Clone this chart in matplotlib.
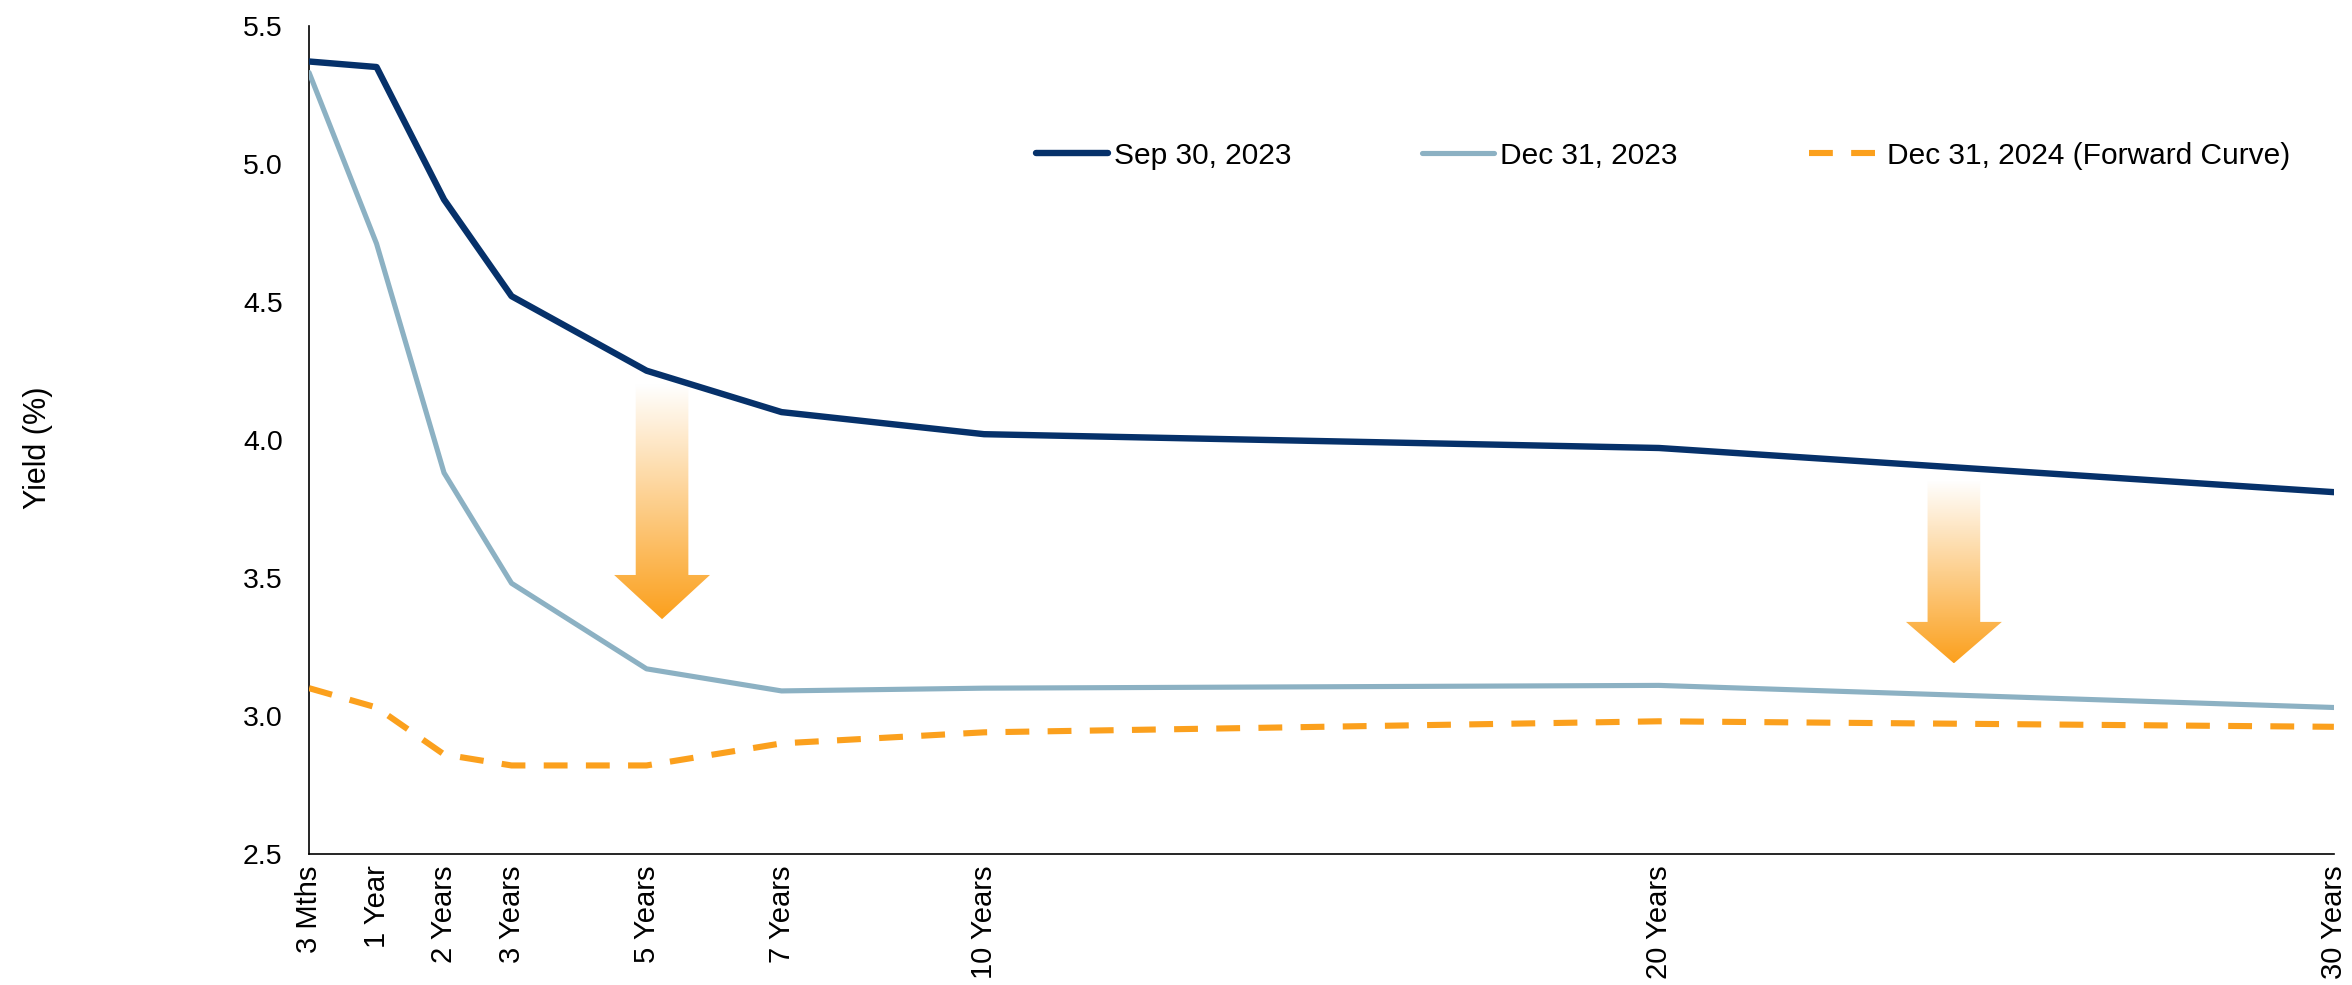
import numpy as np
import matplotlib
matplotlib.use('Agg')
import matplotlib.pyplot as plt
from matplotlib.patches import Polygon
from matplotlib.colors import LinearSegmentedColormap

plt.rcParams['font.family'] = ['Liberation Sans', 'DejaVu Sans']

# maturity positions on the axis (3 months sits at the origin) and their labels
tenor_pos = [0, 1, 2, 3, 5, 7, 10, 20, 30]
tenor_labels = ['3 Mths', '1 Year', '2 Years', '3 Years', '5 Years',
                '7 Years', '10 Years', '20 Years', '30 Years']

sep_2023 = [5.37, 5.35, 4.87, 4.52, 4.25, 4.10, 4.02, 3.97, 3.81]
dec_2023 = [5.33, 4.71, 3.88, 3.48, 3.17, 3.09, 3.10, 3.11, 3.03]
dec_2024_fwd = [3.10, 3.03, 2.86, 2.82, 2.82, 2.90, 2.94, 2.98, 2.96]

series_names = ['Sep 30, 2023', 'Dec 31, 2023', 'Dec 31, 2024 (Forward Curve)']

# decoration arrows (x center, shaft top, head start, tip)
arrow_x = [5.23, 24.37]
arrow_top = [4.20, 3.85]
arrow_neck = [3.51, 3.34]
arrow_tip = [3.35, 3.19]

navy = '#06316a'
light = '#8cb1c3'
orange = '#fba01d'

fig = plt.figure(figsize=(23.52, 9.85), dpi=100)
ax = fig.add_axes([0.1314, 0.1332, 0.9923 - 0.1314, 0.974 - 0.1332])

l1, = ax.plot(tenor_pos, sep_2023, color=navy, lw=4.6, zorder=4,
              solid_joinstyle='round', solid_capstyle='round')
l2, = ax.plot(tenor_pos, dec_2023, color=light, lw=3.7, zorder=3,
              solid_joinstyle='round', solid_capstyle='round')
l3, = ax.plot(tenor_pos, dec_2024_fwd, color=orange, lw=4.4, zorder=3,
              dashes=(3.9, 3.0))

grad = LinearSegmentedColormap.from_list('grad', ['#ffffff', orange])
shaft_w = 0.78
head_w = 1.42
for x, top, neck, tip in zip(arrow_x, arrow_top, arrow_neck, arrow_tip):
    verts = [(x - shaft_w / 2, top), (x + shaft_w / 2, top), (x + shaft_w / 2, neck),
             (x + head_w / 2, neck), (x, tip), (x - head_w / 2, neck),
             (x - shaft_w / 2, neck)]
    poly = Polygon(verts, closed=True, facecolor='none', edgecolor='none')
    ax.add_patch(poly)
    img = ax.imshow(np.linspace(0, 1, 256).reshape(-1, 1), cmap=grad, aspect='auto',
                    extent=[x - head_w / 2, x + head_w / 2, tip, top],
                    origin='upper', zorder=1)
    img.set_clip_path(poly)

ax.set_xlim(0, 30)
ax.set_ylim(2.5, 5.5)
ax.set_aspect('auto')
ax.set_xticks(tenor_pos)
ax.set_xticklabels(tenor_labels, rotation=90, fontsize=21)
yt = np.arange(2.5, 5.51, 0.5)
ax.set_yticks(yt)
ax.set_yticklabels(['%.1f' % v for v in yt], fontsize=20.5)
ax.tick_params(axis='x', length=0, pad=8.5)
ax.tick_params(axis='y', length=0, pad=19)

for s in ['top', 'right']:
    ax.spines[s].set_visible(False)
for s in ['left', 'bottom']:
    ax.spines[s].set_linewidth(1.2)
    ax.spines[s].set_color('black')

fig.text(0.016, 0.545, 'Yield (%)', rotation=90, fontsize=22, ha='center', va='center')

ax.legend([l1, l2, l3], series_names, loc='center', bbox_to_anchor=(0.707, 0.842),
          bbox_transform=fig.transFigure, ncol=3, frameon=False, fontsize=21.5,
          handlelength=2.4, handletextpad=0.2, columnspacing=4.4)

fig.savefig('out.png', dpi=100)
